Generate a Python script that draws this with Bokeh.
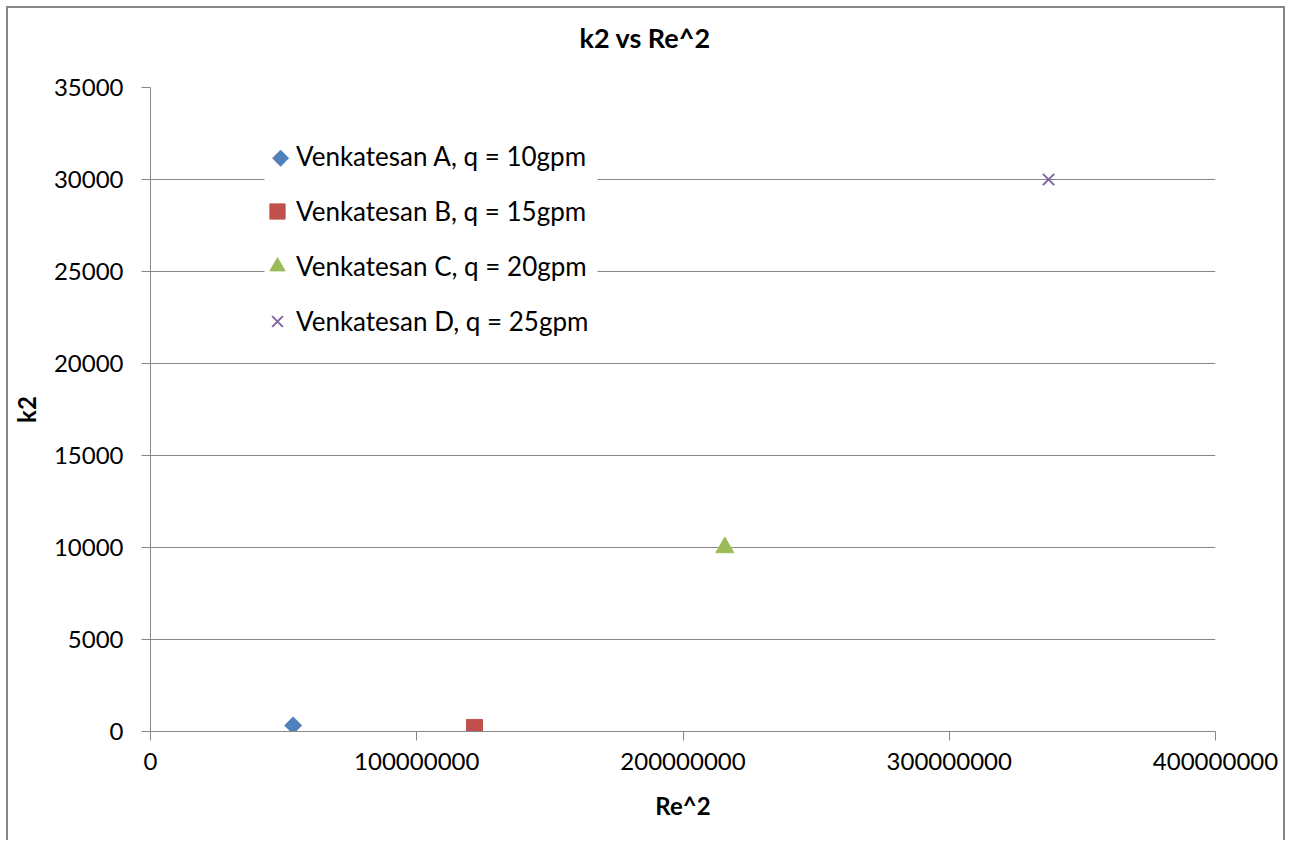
from bokeh.plotting import figure
from bokeh.models import (FixedTicker, NumeralTickFormatter, Legend, LegendItem, Range1d,
                          Label, Title, BoxAnnotation)
from bokeh.embed import file_html
from bokeh.resources import INLINE

# Data
title_text = "k2 vs Re^2"
series_names = ["Venkatesan A, q = 10gpm", "Venkatesan B, q = 15gpm",
                "Venkatesan C, q = 20gpm", "Venkatesan D, q = 25gpm"]
re2_values = [53.6e6, 121.7e6, 215.7e6, 337.3e6]
k2_values = [330, 220, 10000, 30000]
colors = ["#4F81BD", "#C0504D", "#9BBB59", "#8064A2"]
x_ticks = [0, 100000000, 200000000, 300000000, 400000000]
y_ticks = [0, 5000, 10000, 15000, 20000, 25000, 30000, 35000]

FONT = "Lato"
GRID = "#868686"

p = figure(width=1279, height=834, output_backend="svg", toolbar_location=None,
           x_range=Range1d(0, 400000000), y_range=Range1d(0, 35000),
           min_border_left=140, min_border_top=79, min_border_right=72, min_border_bottom=111)
p.styles = {"margin-left": "6px", "margin-top": "6px",
            "border-left": "2px solid #868686", "border-top": "2px solid #868686",
            "border-right": "2px solid #868686"}
p.outline_line_color = None
p.background_fill_color = "white"
p.border_fill_color = "white"

# spacer panel between frame and title, then the title itself
p.add_layout(Title(text=" ", text_font_size="2px", standoff=30), "above")
p.add_layout(Title(text=title_text, align="left", offset=429, standoff=0,
                   text_font=FONT, text_font_size="27px", text_font_style="bold",
                   text_color="black"), "above")

for ax in (p.xaxis[0], p.yaxis[0]):
    ax.axis_line_color = GRID
    ax.major_tick_line_color = GRID
    ax.minor_tick_line_color = None
    ax.major_tick_in = 0
    ax.major_tick_out = 9
    ax.major_label_text_font = FONT
    ax.major_label_text_font_size = "24px"
    ax.major_label_text_color = "black"
    ax.axis_label_text_font = FONT
    ax.axis_label_text_font_size = "24px"
    ax.axis_label_text_font_style = "bold"
    ax.axis_label_text_color = "black"
    ax.formatter = NumeralTickFormatter(format="0")

p.xaxis.ticker = FixedTicker(ticks=x_ticks)
p.yaxis.ticker = FixedTicker(ticks=y_ticks)
p.xaxis.axis_label = "Re^2"
p.yaxis.axis_label = "k2"
p.xaxis.major_label_standoff = 12
p.yaxis.major_label_standoff = 18
p.xaxis.axis_label_standoff = 18
p.yaxis.axis_label_standoff = 10

p.xgrid.grid_line_color = None
p.ygrid.grid_line_color = GRID
p.ygrid.grid_line_width = 1

r_a = p.scatter([re2_values[0]], [k2_values[0]], marker="square", size=12, angle=0.785398,
                fill_color=colors[0], line_color=colors[0])
r_b = p.scatter([re2_values[1]], [k2_values[1]], marker="square", size=16,
                fill_color=colors[1], line_color=colors[1])
r_c = p.scatter([re2_values[2]], [k2_values[2]], marker="triangle", size=18,
                fill_color=colors[2], line_color=colors[2])
r_d = p.scatter([re2_values[3]], [k2_values[3]], marker="x", size=16,
                line_color=colors[3], line_width=2)
r_a_leg = p.scatter([], [], marker="square", fill_alpha=0, line_alpha=0)

# white legend background (drawn below the legend so the diamond key can sit on it)
p.add_layout(BoxAnnotation(left=114, right=447, bottom=386, top=603,
                           left_units="screen", right_units="screen",
                           bottom_units="screen", top_units="screen",
                           fill_color="white", fill_alpha=1, line_color=None))
p.add_layout(Label(x=130, y=575, x_units="screen", y_units="screen", text="\u25c6",
                   text_font="DejaVu Sans", text_font_size="22px", text_color=colors[0],
                   text_align="center", text_baseline="middle"))

legend = Legend(items=[LegendItem(label=series_names[i], renderers=[r])
                       for i, r in enumerate([r_a_leg, r_b, r_c, r_d])],
                location=(108, 391))
legend.background_fill_alpha = 0
legend.border_line_color = None
legend.label_text_font = FONT
legend.label_text_font_size = "26px"
legend.label_text_color = "black"
legend.glyph_width = 38
legend.glyph_height = 38
legend.label_height = 38
legend.spacing = 17
legend.padding = 5
legend.margin = 0
legend.label_standoff = 0
p.add_layout(legend)

open("out.html", "w").write(file_html(p, INLINE))
